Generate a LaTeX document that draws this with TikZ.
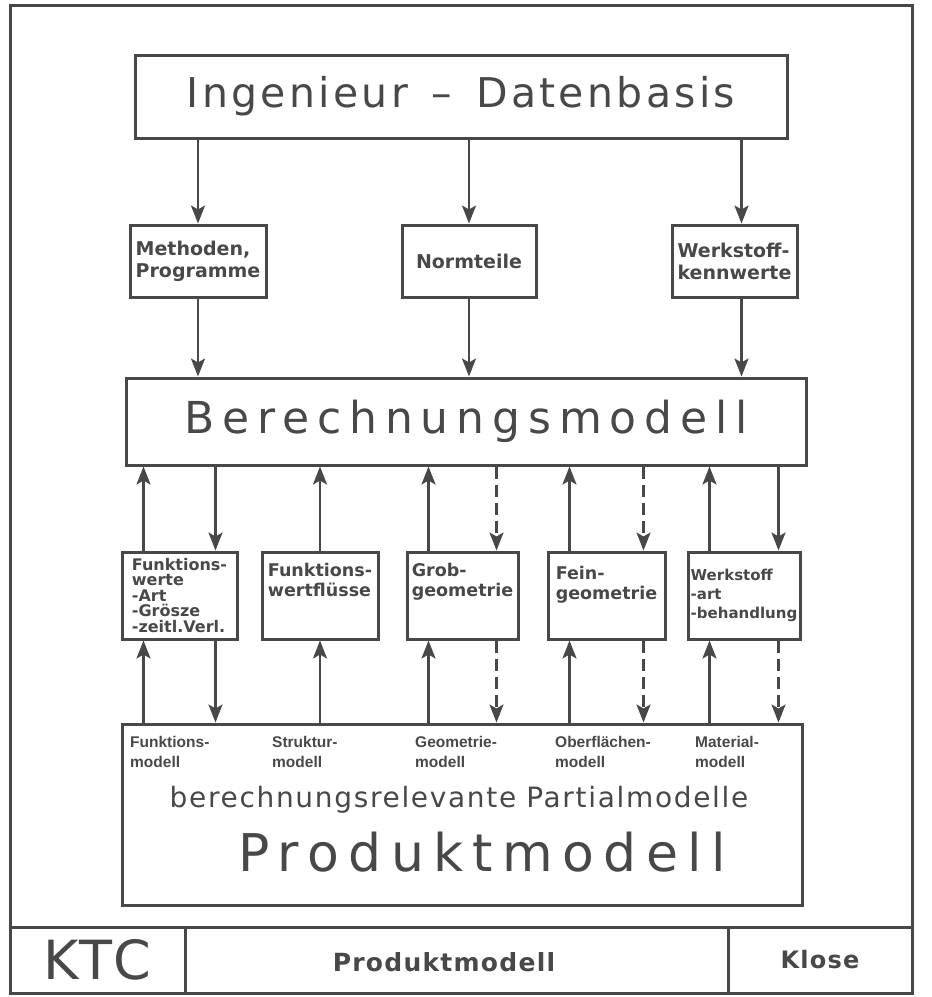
\documentclass[tikz,border=0pt]{standalone}
\usepackage{fontspec}
\setmainfont{DejaVu Sans}
\newfontfamily\headfont[LetterSpace=18]{DejaVu Sans}
\newfontfamily\ingfont[LetterSpace=8]{DejaVu Sans}
\newfontfamily\widefont[LetterSpace=6]{DejaVu Sans}
\newfontfamily\footfont[LetterSpace=5]{DejaVu Sans}
\newfontfamily\lblfont{Liberation Sans}
\usetikzlibrary{arrows.meta, positioning, calc}
\definecolor{ink}{RGB}{72,72,72}

\begin{document}
\begin{tikzpicture}[x=1pt,y=1pt,yscale=-1,
	every node/.style={text=ink},
	box/.style={draw=ink, line width=3pt, inner sep=0pt},
	smallbox/.style={box, align=left, font=\bfseries\fontsize{19}{22}\selectfont},
	fwbox/.style={box, align=left, minimum height=87pt, font=\bfseries\fontsize{17.5}{20}\selectfont},
	lbl/.style={anchor=north west, inner sep=0pt, align=left, font=\lblfont\bfseries\fontsize{15.5}{20}\selectfont},
	arr/.style={draw=ink, line width=2.5pt, -{Stealth[length=18pt,width=14pt,inset=4pt]}},
	dsh/.style={arr, dash pattern=on 12pt off 6pt}]
	\useasboundingbox (0,0) rectangle (932,997);
	
	% frame
	\draw [ink, line width=3pt] (10,5) rectangle (912,993);
	
	% upper part
	\node [box, minimum width=652pt, minimum height=83pt] (ing) at (461,96.5) {\ingfont\fontsize{41}{43}\selectfont Ingenieur\hspace{24pt}\textendash\hspace{24pt}Datenbasis};
	\node [smallbox, minimum width=136pt, minimum height=72pt] (meth) at (198,261) {Methoden,\\Programme};
	\node [smallbox, minimum width=134pt, minimum height=72pt] (norm) at (469,261) {Normteile};
	\node [smallbox, minimum width=125pt, minimum height=72pt] (wkw) at (734.5,261) {Werkstoff-\\kennwerte};
	\node [box, minimum width=680pt, minimum height=87pt] (ber) at (466,421.5) {\headfont\fontsize{44}{46}\selectfont Berechnungsmodell};
	
	% functional boxes
	\node [fwbox, minimum width=115pt, font=\bfseries\fontsize{16}{15.5}\selectfont] (fw1) at (179.5,595.5) {Funktions-\\werte\\-Art\\-Grösze\\-zeitl.Verl.};
	\node [fwbox, minimum width=116pt] (fw2) at (320,595.5) {Funktions-\\wertflüsse\\[12pt]};
	\node [fwbox, minimum width=111pt] (fw3) at (462.5,595.5) {Grob-\\geometrie\\[12pt]};
	\node [fwbox, minimum width=117pt] (fw4) at (606.5,595.5) {Fein-\\geometrie\\[6pt]};
	\node [fwbox, minimum width=112pt, font=\bfseries\fontsize{15}{19}\selectfont] (fw5) at (744,595.5) {Werkstoff\\-art\\-behandlung};
	
	% product model
	\node [box, minimum width=680pt, minimum height=181pt] (prod) at (462,814.5) {};
	\node [lbl] (lfunk) at (130,736) {Funktions-\\modell};
	\node [lbl] (lstruk) at (272,736) {Struktur-\\modell};
	\node [lbl] (lgeo) at (415,736) {Geometrie-\\modell};
	\node [lbl] (lober) at (555,736) {Oberflächen-\\modell};
	\node [lbl] (lmat) at (695,736) {Material-\\modell};
	\node [inner sep=0pt] (rel) at (459,800) {\widefont\fontsize{28}{30}\selectfont berechnungsrelevante\hspace{10pt}Partialmodelle};
	\node [inner sep=0pt] (pm) at (482,852) {\headfont\fontsize{52}{54}\selectfont Produktmodell};
	
	% footer
	\node [box, minimum width=175pt, minimum height=66pt] (ktc) at (97.5,960) {\ingfont\fontsize{54}{56}\selectfont KTC};
	\node [box, minimum width=543pt, minimum height=66pt] (titel) at (456.5,960) {};
	\node [inner sep=0pt] (titeltxt) at (444,962) {\footfont\bfseries\fontsize{25}{27}\selectfont Produktmodell};
	\node [box, minimum width=184pt, minimum height=66pt] (autor) at (820,960) {\footfont\bfseries\fontsize{24}{26}\selectfont Klose};
	
	% connectors top
	\coordinate (wkn) at ([xshift=7pt]wkw.north);
	\coordinate (wks) at ([xshift=7pt]wkw.south);
	\draw [arr] (ing.south -| meth.north) -- (meth.north);
	\draw [arr] (ing.south -| norm.north) -- (norm.north);
	\draw [arr] (ing.south -| wkn) -- (wkn);
	\draw [arr] (meth.south) -- (meth.south |- ber.north);
	\draw [arr] (norm.south) -- (norm.south |- ber.north);
	\draw [arr] (wks) -- (wks |- ber.north);
	
	% connectors middle
	\foreach \i in {1,...,5}{
		\coordinate (up\i) at ([xshift=23pt]fw\i.north west);
		\coordinate (dn\i) at ([xshift=-23pt]fw\i.north east);
	}
	\foreach \i in {1,3,4,5}{
		\draw [arr] (up\i) -- (up\i |- ber.south);
		\draw [arr] (up\i |- prod.north) -- (up\i |- fw\i.south);
	}
	\draw [arr] (fw2.north) -- (fw2.north |- ber.south);
	\draw [arr] (fw2.south |- prod.north) -- (fw2.south);
	\draw [arr] (dn1 |- ber.south) -- (dn1);
	\draw [arr] (dn5 |- ber.south) -- (dn5);
	\draw [dsh] (dn3 |- ber.south) -- (dn3);
	\draw [dsh] (dn4 |- ber.south) -- (dn4);
	\draw [arr] (dn1 |- fw1.south) -- (dn1 |- prod.north);
	\foreach \i in {3,4,5}{
		\draw [dsh] (dn\i |- fw\i.south) -- (dn\i |- prod.north);
	}
\end{tikzpicture}
\end{document}
